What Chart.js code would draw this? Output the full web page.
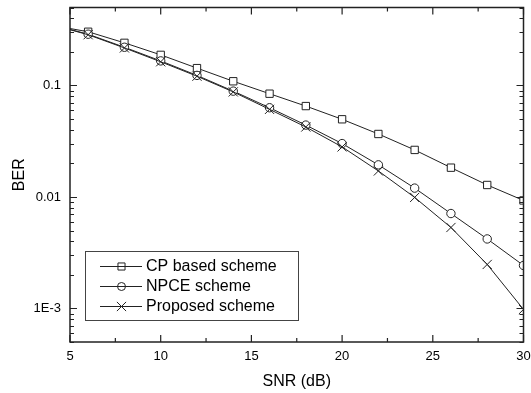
<!DOCTYPE html>
<html>
<head>
<meta charset="utf-8">
<script src="https://cdn.jsdelivr.net/npm/chart.js@4/dist/chart.umd.min.js"></script>
<style>
  html, body { margin:0; padding:0; background:#fff; }
  #wrap { width:531px; height:393px; }
</style>
</head>
<body>
<div id="wrap"><canvas id="berChart" width="531" height="393"></canvas></div>
<script>
// data
const snr = [5, 6, 8, 10, 12, 14, 16, 18, 20, 22, 24, 26, 28, 30];
const cpBased = [0.324, 0.303, 0.241, 0.188, 0.143, 0.109, 0.0843, 0.0653, 0.0497, 0.0367, 0.0264, 0.0183, 0.0128, 0.0093];
const npce = [0.318, 0.288, 0.220, 0.166, 0.123, 0.0889, 0.0631, 0.0441, 0.0301, 0.0194, 0.0120, 0.0071, 0.0042, 0.00243];
const proposed = [0.316, 0.285, 0.217, 0.163, 0.121, 0.0875, 0.061, 0.0424, 0.0281, 0.0171, 0.0099, 0.00532, 0.00248, 0.00098];

const xTicks = [5, 7.5, 10, 12.5, 15, 17.5, 20, 22.5, 25, 27.5, 30];
const xLabels = [5, 10, 15, 20, 25, 30];
const yTicks = [5e-4,6e-4,7e-4,8e-4,9e-4, 1e-3,2e-3,3e-3,4e-3,5e-3,6e-3,7e-3,8e-3,9e-3,
                0.01,0.02,0.03,0.04,0.05,0.06,0.07,0.08,0.09, 0.1,0.2,0.3,0.4,0.5];
const yLabels = { '0.1':'0.1', '0.01':'0.01', '0.001':'1E-3' };

const FONT = '"Liberation Sans", Arial, sans-serif';
const INK = '#222';

const hideFirst = r => ctx => ctx.dataIndex === 0 ? 0 : r;

function series(label, data, style, r, order){
  return {
    label, data: snr.map((x,i)=>({x, y:data[i]})),
    borderColor: INK, borderWidth: 1, backgroundColor: style==='crossRot' ? INK : '#fff',
    pointStyle: style, pointRadius: hideFirst(r), pointBorderColor: INK, pointBorderWidth: 1,
    pointBackgroundColor: '#fff', tension: 0, order
  };
}

const datasets = [
  series('CP based scheme', cpBased, 'rect', 5.2, 3),
  series('NPCE scheme', npce, 'circle', 4.2, 2),
  series('Proposed scheme', proposed, 'crossRot', 6.5, 1)
];

// frame, inward ticks on all four sides, legend box inside the plot
const framePlugin = {
  id:'frame',
  afterDraw(chart){
    const {ctx, chartArea:a, scales:{x, y}} = chart;
    ctx.save();
    ctx.strokeStyle = INK;
    ctx.lineWidth = 1.5;
    ctx.strokeRect(a.left, a.top, a.right-a.left, a.bottom-a.top);
    ctx.lineWidth = 1.2;
    ctx.beginPath();
    xTicks.forEach(v=>{
      const px = x.getPixelForValue(v), len = xLabels.includes(v) ? 7 : 4;
      ctx.moveTo(px, a.bottom); ctx.lineTo(px, a.bottom-len);
      ctx.moveTo(px, a.top); ctx.lineTo(px, a.top+len);
    });
    yTicks.forEach(v=>{
      const py = Math.round(y.getPixelForValue(v)) + 0.5;
      const len = yLabels[String(v)] ? 7 : 4;
      ctx.moveTo(a.left, py); ctx.lineTo(a.left+len, py);
      ctx.moveTo(a.right, py); ctx.lineTo(a.right-len, py);
    });
    ctx.stroke();

    // legend
    const bx = 85, by = 251, bw = 213, bh = 69;
    ctx.fillStyle = '#fff';
    ctx.fillRect(bx, by, bw, bh);
    ctx.strokeStyle = '#444';
    ctx.lineWidth = 1;
    ctx.strokeRect(bx+0.5, by+0.5, bw, bh);
    const rows = [266, 286, 306];
    datasets.forEach((d,i)=>{
      const ly = rows[i];
      ctx.strokeStyle = INK;
      ctx.lineWidth = 1;
      ctx.beginPath(); ctx.moveTo(100, ly+0.5); ctx.lineTo(142, ly+0.5); ctx.stroke();
      const r = d.pointStyle==='rect' ? 5 : d.pointStyle==='circle' ? 4 : 6.5;
      ctx.fillStyle = 'rgba(0,0,0,0)';
      Chart.helpers.drawPoint(ctx, {pointStyle:d.pointStyle, radius:r, rotation:0, borderWidth:1}, 121.5, ly+0.5);
      ctx.fillStyle = '#000';
      ctx.font = '16px ' + FONT;
      ctx.textBaseline = 'middle';
      ctx.fillText(d.label, 146, ly+1);
    });
    ctx.restore();
  }
};

new Chart(document.getElementById('berChart'), {
  type:'line',
  data:{ datasets },
  options:{
    responsive:false, animation:false,
    layout:{ padding:{ top:7, right:5, left:0, bottom:0 } },
    plugins:{ legend:{ display:false }, tooltip:{ enabled:false } },
    scales:{
      x:{
        type:'linear', min:5, max:30,
        grid:{ display:false, drawTicks:false }, border:{ display:false },
        afterBuildTicks: s => { s.ticks = xTicks.map(v=>({value:v})); },
        afterFit: s => { s.height = 51; s.paddingLeft = 0; s.paddingRight = 0; },
        ticks:{ autoSkip:false, maxRotation:0, padding:7, color:'#000', font:{ family:FONT, size:13 },
          callback: v => xLabels.includes(v) ? String(v) : '' },
        title:{ display:true, text:'SNR (dB)', color:'#000', font:{ family:FONT, size:16 }, padding:{ top:0, bottom:2 } }
      },
      y:{
        type:'logarithmic', min:5e-4, max:0.5,
        grid:{ display:false, drawTicks:false }, border:{ display:false },
        afterBuildTicks: s => { s.ticks = yTicks.map(v=>({value:v})); },
        afterFit: s => { s.width = 70; s.paddingTop = 0; s.paddingBottom = 0; },
        ticks:{ autoSkip:false, padding:9, color:'#000', font:{ family:FONT, size:13 },
          callback: v => yLabels[String(v)] || '' },
        title:{ display:true, text:'BER', color:'#000', font:{ family:FONT, size:16 }, padding:{ top:10, bottom:0 } }
      }
    }
  },
  plugins:[framePlugin]
});
</script>
</body>
</html>
